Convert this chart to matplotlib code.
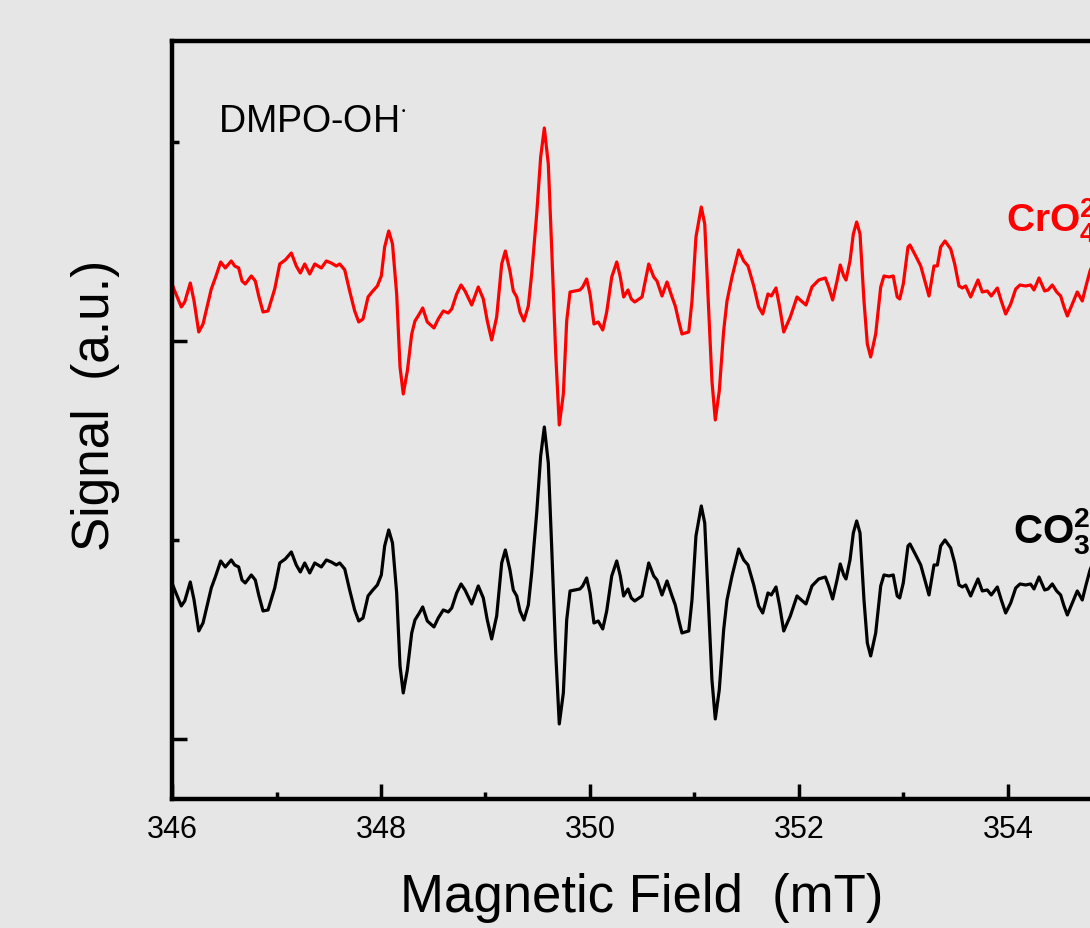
import matplotlib.pyplot as plt

plt.rcParams['font.family'] = ['Liberation Sans', 'DejaVu Sans']
plt.rcParams['mathtext.fontset'] = 'custom'
plt.rcParams['mathtext.rm'] = 'Liberation Sans'
plt.rcParams['mathtext.bf'] = 'Liberation Sans:bold'
plt.rcParams['mathtext.it'] = 'Liberation Sans:italic'

# magnetic field sweep (mT), shared by both spectra
field = [
    346.000, 346.026, 346.089, 346.122, 346.175, 346.211, 346.256, 346.297, 346.338, 346.376,
    346.418, 346.466, 346.510, 346.567, 346.600, 346.638, 346.670, 346.701, 346.759, 346.797,
    346.830, 346.871, 346.919, 346.983, 347.031, 347.084, 347.142, 347.189, 347.228, 347.270,
    347.318, 347.366, 347.429, 347.477, 347.524, 347.572, 347.605, 347.653, 347.700, 347.748,
    347.787, 347.828, 347.876, 347.914, 347.965, 348.003, 348.035, 348.074, 348.110, 348.150,
    348.182, 348.213, 348.252, 348.294, 348.325, 348.367, 348.399, 348.443, 348.507, 348.548,
    348.596, 348.644, 348.677, 348.724, 348.766, 348.804, 348.868, 348.931, 348.979, 349.017,
    349.059, 349.107, 349.155, 349.190, 349.234, 349.266, 349.299, 349.330, 349.368, 349.410,
    349.442, 349.490, 349.528, 349.563, 349.601, 349.633, 349.672, 349.706, 349.745, 349.777,
    349.809, 349.856, 349.904, 349.930, 349.968, 350.000, 350.038, 350.079, 350.122, 350.160,
    350.208, 350.256, 350.290, 350.322, 350.364, 350.395, 350.428, 350.498, 350.529, 350.562,
    350.610, 350.641, 350.689, 350.737, 350.785, 350.816, 350.849, 350.880, 350.945, 350.976,
    351.014, 351.065, 351.098, 351.136, 351.167, 351.199, 351.237, 351.279, 351.311, 351.359,
    351.423, 351.471, 351.512, 351.567, 351.614, 351.653, 351.703, 351.735, 351.780, 351.815,
    351.854, 351.917, 351.981, 352.022, 352.067, 352.124, 352.189, 352.252, 352.284, 352.322,
    352.364, 352.395, 352.428, 352.450, 352.488, 352.520, 352.552, 352.584, 352.622, 352.654,
    352.686, 352.734, 352.782, 352.813, 352.861, 352.902, 352.940, 352.964, 352.998, 353.043,
    353.062, 353.117, 353.165, 353.213, 353.244, 353.292, 353.324, 353.356, 353.397, 353.452,
    353.490, 353.531, 353.563, 353.595, 353.643, 353.675, 353.713, 353.754, 353.802, 353.840,
    353.898, 353.936, 353.978, 354.026, 354.074, 354.115, 354.169, 354.217, 354.249, 354.297,
    354.351, 354.383, 354.424, 354.466, 354.504, 354.536, 354.568, 354.615, 354.663, 354.711,
    354.744, 354.785, 354.833,
]

# EPR signal (a.u.), DMPO-OH adduct
signal_cro4 = [
    0, -7, -23, -18, 1, -17, -48, -40, -22, -5,
    7, 22, 16, 23, 18, 16, 3, 0, 8, 3,
    -12, -28, -27, -5, 20, 24, 31, 18, 11, 20,
    10, 20, 16, 23, 21, 18, 20, 14, -7, -27,
    -38, -35, -13, -8, -2, 8, 37, 53, 40, -10,
    -83, -110, -87, -50, -37, -30, -24, -38, -44, -35,
    -27, -29, -25, -10, -1, -7, -21, -3, -15, -37,
    -56, -33, 20, 33, 13, -7, -13, -28, -37, -22,
    10, 70, 127, 156, 120, 37, -70, -141, -110, -37,
    -8, -7, -6, -3, 5, -10, -40, -38, -46, -28,
    7, 22, 7, -13, -6, -15, -18, -13, 3, 20,
    7, 3, -12, 2, -13, -22, -37, -50, -48, -17,
    47, 77, 60, -27, -97, -136, -107, -47, -17, 7,
    34, 23, 18, -2, -23, -30, -10, -12, -4, -23,
    -48, -33, -13, -17, -21, -3, 4, 6, -3, -16,
    3, 19, 8, 4, 23, 50, 62, 50, -17, -60,
    -73, -50, -3, 8, 7, 8, -13, -15, 0, 37,
    39, 28, 18, 0, -12, 18, 18, 37, 43, 35,
    20, -2, -4, -2, -13, -5, 4, -8, -7, -12,
    -4, -17, -30, -20, -5, -1, -2, -1, -6, 6,
    -7, -6, -1, -8, -12, -23, -32, -20, -8, -17,
    -3, 13, 25,
]

signal_co3 = [
    0, -7, -23, -18, 1, -17, -48, -40, -22, -5,
    7, 22, 16, 23, 18, 16, 3, 0, 8, 3,
    -12, -28, -27, -5, 20, 24, 31, 18, 11, 20,
    10, 20, 16, 23, 21, 18, 20, 14, -7, -27,
    -38, -35, -13, -8, -2, 8, 37, 53, 40, -10,
    -83, -110, -87, -50, -37, -30, -24, -38, -44, -35,
    -27, -29, -25, -10, -1, -7, -21, -3, -15, -37,
    -56, -33, 20, 33, 13, -7, -13, -28, -37, -22,
    10, 70, 127, 156, 120, 37, -70, -141, -110, -37,
    -8, -7, -6, -3, 5, -10, -40, -38, -46, -28,
    7, 22, 7, -13, -6, -15, -18, -13, 3, 20,
    7, 3, -12, 2, -13, -22, -37, -50, -48, -17,
    47, 77, 60, -27, -97, -136, -107, -47, -17, 7,
    34, 23, 18, -2, -23, -30, -10, -12, -4, -23,
    -48, -33, -13, -17, -21, -3, 4, 6, -3, -16,
    3, 19, 8, 4, 23, 50, 62, 50, -17, -60,
    -73, -50, -3, 8, 7, 8, -13, -15, 0, 37,
    39, 28, 18, 0, -12, 18, 18, 37, 43, 35,
    20, -2, -4, -2, -13, -5, 4, -8, -7, -12,
    -4, -17, -30, -20, -5, -1, -2, -1, -6, 6,
    -7, -6, -1, -8, -12, -23, -32, -20, -8, -17,
    -3, 13, 25,
]

x_major = [346, 348, 350, 352, 354]
x_minor = [347, 349, 351, 353, 355]

# vertical stacking of the two spectra
offset_cro4 = 0
offset_co3 = -299

bg = '#e6e6e6'
fig = plt.figure(figsize=(10.9, 9.29), dpi=100, facecolor=bg)
ax = fig.add_axes([0.1578, 0.1389, 0.9587, 0.8159])
ax.set_facecolor(bg)

ax.plot(field, [v + offset_cro4 for v in signal_cro4], color='#ff0000', lw=2.3,
        solid_joinstyle='round')
ax.plot(field, [v + offset_co3 for v in signal_co3], color='black', lw=2.3,
        solid_joinstyle='round')

ax.set_xlim(346, 356)
ax.set_ylim(-515, 243)
ax.set_xticks(x_major)
ax.set_xticks(x_minor, minor=True)
ax.set_yticks([-455, -57])
ax.set_yticks([-256, 142], minor=True)
ax.set_yticklabels([])

for s in ax.spines.values():
    s.set_linewidth(3.2)
ax.tick_params(which='both', direction='in', width=2.5, labelsize=22)
ax.tick_params(axis='x', which='major', length=10.5, pad=11)
ax.tick_params(axis='x', which='minor', length=5)
ax.tick_params(axis='y', which='major', length=11)
ax.tick_params(axis='y', which='minor', length=5)

ax.set_xlabel('Magnetic Field  (mT)', fontsize=38)
ax.xaxis.set_label_coords(0.449, -0.097)
ax.set_ylabel('Signal  (a.u.)', fontsize=37)
ax.yaxis.set_label_coords(-0.05, 0.521)

ax.text(0.044, 0.881, r'DMPO-OH$^{\cdot}$', transform=ax.transAxes,
        fontsize=27, va='baseline', ha='left')
ax.text(0.798, 0.749, r'$\mathbf{CrO_4^{2-}}$', transform=ax.transAxes,
        fontsize=28, color='#ff0000', va='baseline', ha='left')
ax.text(0.805, 0.339, r'$\mathbf{CO_3^{2-}}$', transform=ax.transAxes,
        fontsize=29, color='black', va='baseline', ha='left')

plt.savefig('out.png', dpi=100, facecolor=bg)
